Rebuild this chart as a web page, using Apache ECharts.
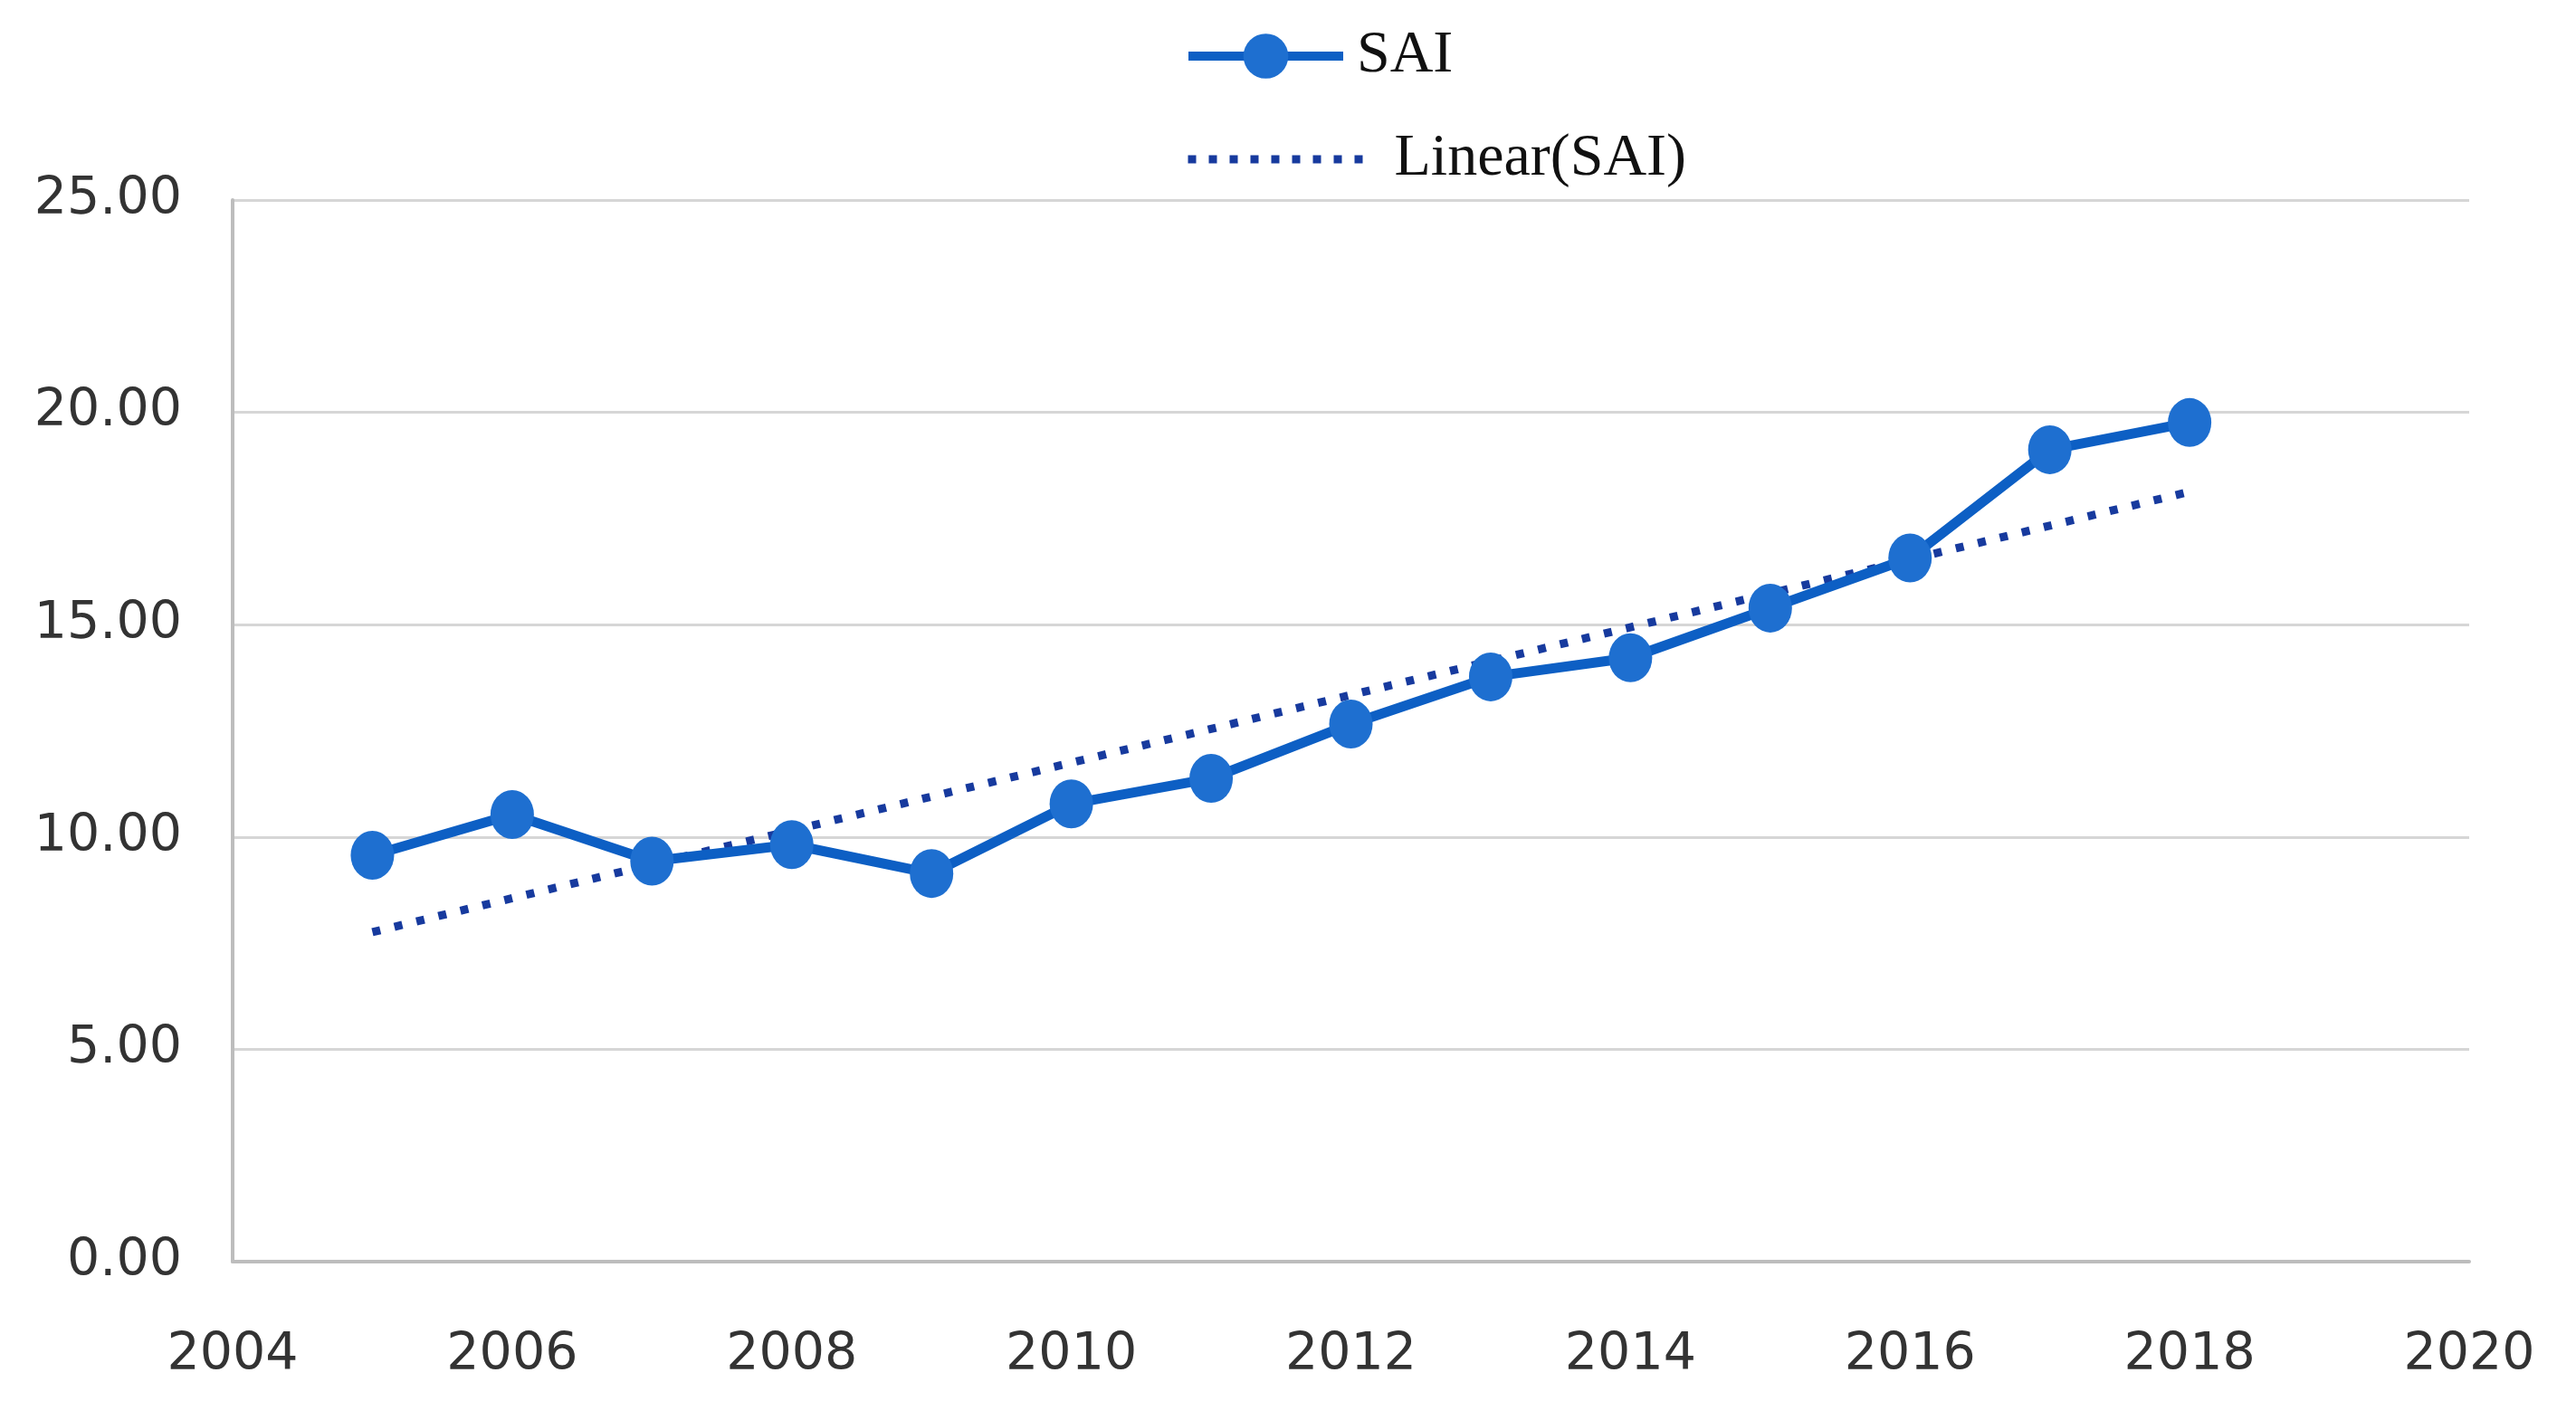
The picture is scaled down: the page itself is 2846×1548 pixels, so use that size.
<!DOCTYPE html>
<html>
<head>
<meta charset="utf-8">
<script src="https://cdn.jsdelivr.net/npm/echarts@6/dist/echarts.min.js"></script>
<style>
html,body{margin:0;padding:0;background:#fff;}
#chart{width:2846px;height:1548px;}
</style>
</head>
<body>
<div id="chart"></div>
<script>
const years = [2005, 2006, 2007, 2008, 2009, 2010, 2011, 2012, 2013, 2014, 2015, 2016, 2017, 2018];
const sai = [9.57, 10.53, 9.43, 9.82, 9.14, 10.78, 11.38, 12.66, 13.77, 14.22, 15.39, 16.57, 19.12, 19.76];
const trendYears = [2005, 2018];
const trendValues = [7.76, 18.13];
const seriesNames = ['SAI', 'Linear(SAI)'];

const chart = echarts.init(document.getElementById('chart'));
const legendText = {fontFamily: 'Liberation Serif', fontSize: 66, color: '#111'};
chart.setOption({
  backgroundColor: '#fff',
  animation: false,
  grid: {left: 257, right: 118, top: 221, bottom: 154},
  legend: [
    {data: [seriesNames[0]], left: 1303, top: 24, itemWidth: 171, itemHeight: 62,
     lineStyle: {width: 10, color: '#0d5fc4'},
     textStyle: Object.assign({padding: [0, 0, 0, 10]}, legendText)},
    {data: [{name: seriesNames[1], itemStyle: {opacity: 0}}], left: 1303, top: 138, itemWidth: 207, itemHeight: 46,
     lineStyle: {width: 9, color: '#173a9e', type: [9, 14]},
     textStyle: Object.assign({padding: [0, 0, 0, 16]}, legendText)}
  ],
  xAxis: {
    type: 'value', min: 2004, max: 2020, interval: 2,
    axisLine: {show: true, lineStyle: {color: '#bdbdbd', width: 4}},
    axisTick: {show: false},
    splitLine: {show: false},
    axisLabel: {fontFamily: 'DejaVu Sans', fontSize: 57, color: '#333', margin: 76,
      formatter: v => String(v)}
  },
  yAxis: {
    type: 'value', min: 0, max: 25, interval: 5,
    axisLine: {show: true, lineStyle: {color: '#bdbdbd', width: 4}},
    axisTick: {show: false},
    splitLine: {show: true, lineStyle: {color: '#d6d6d6', width: 3}},
    axisLabel: {fontFamily: 'DejaVu Sans', fontSize: 57, color: '#333', margin: 56,
      formatter: v => v.toFixed(2)}
  },
  series: [
    {
      name: seriesNames[0], type: 'line',
      data: years.map((y, i) => [y, sai[i]]),
      symbol: 'circle', symbolSize: [48, 54],
      lineStyle: {color: '#0d5fc4', width: 11},
      itemStyle: {color: '#1e6fd0'},
      z: 3
    },
    {
      name: seriesNames[1], type: 'line',
      data: trendYears.map((y, i) => [y, trendValues[i]]),
      showSymbol: false, symbol: 'none',
      lineStyle: {color: '#173a9e', width: 9, type: [9, 16]},
      itemStyle: {color: '#173a9e'},
      z: 2
    }
  ]
});
</script>
</body>
</html>
